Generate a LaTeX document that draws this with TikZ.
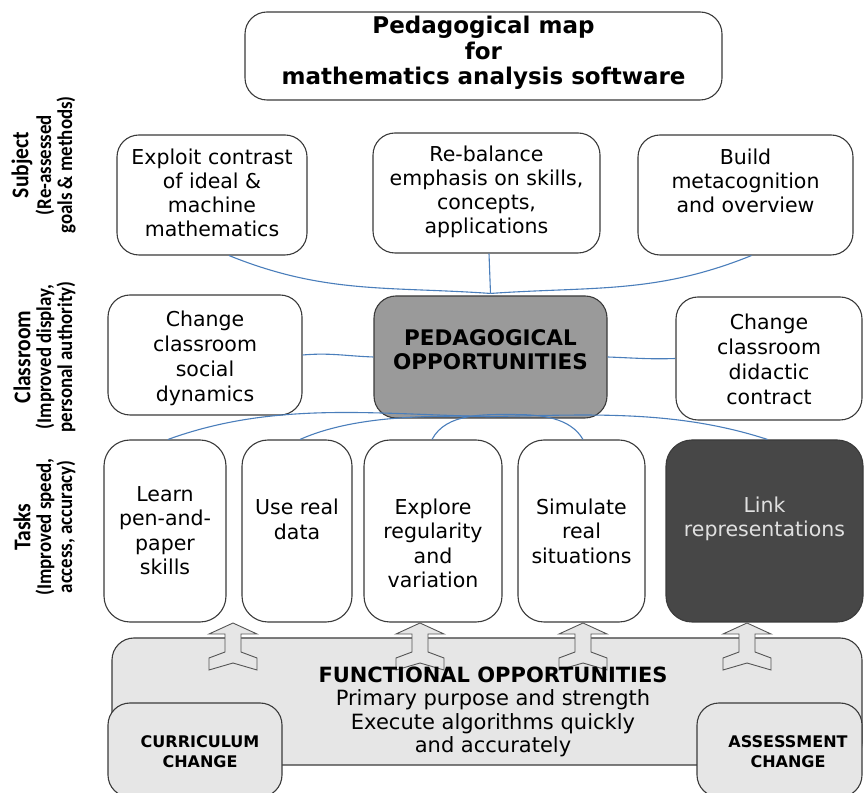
\documentclass[tikz,border=0pt]{standalone}
\usepackage{fontspec}
\setmainfont{DejaVu Sans}
\newfontfamily\labfont[FakeStretch=0.9]{Carlito}
\usetikzlibrary{calc}
\definecolor{edgegray}{HTML}{3A3A3A}
\definecolor{linkblue}{HTML}{4A7EBB}
\definecolor{pedgray}{HTML}{9A9A9A}
\definecolor{darkbox}{HTML}{474747}
\definecolor{lightfill}{HTML}{E6E6E6}
\definecolor{arrowedge}{HTML}{555555}
\tikzset{
  box/.style={draw=edgegray, line width=1.1pt, rounded corners=22pt, fill=white, inner sep=0pt},
  taskbox/.style={box, rounded corners=26pt},
  boxtext/.style={align=center, inner sep=0pt, text=black},
  link/.style={draw=linkblue, line width=1.1pt},
  rowlabel/.style={rotate=90, inner sep=0pt},
  rowmain/.style={rowlabel, font=\labfont\bfseries\fontsize{24}{24}\selectfont},
  rowsub/.style={rowlabel, font=\labfont\bfseries\fontsize{21}{21}\selectfont},
  uparrow/.pic={
    \draw[fill=lightfill, draw=arrowedge, line width=0.9pt]
      (0,0) -- (24,-11) -- (8,-11) -- (8,-29) -- (24,-35) -- (24,-47)
      -- (0,-40) -- (-24,-47) -- (-24,-35) -- (-8,-29) -- (-8,-11)
      -- (-24,-11) -- cycle;
  }
}
\newcommand{\fs}[2]{\fontsize{#1}{#2}\selectfont}
\begin{document}
\begin{tikzpicture}[x=1pt, y=1pt]
\useasboundingbox (0,0) rectangle (864,792);

% title
\node[box, minimum width=477pt, minimum height=88pt] (title) at (483.5,736) {};
\node[boxtext, font=\bfseries\fs{23}{25.5}] (titletext) at (483.5,739)
  {Pedagogical map\\for\\mathematics analysis software};

% row labels
\node[rowmain] (labS) at (22,627) {Subject};
\node[rowsub] (labS1) at (45,627) {(Re-assessed};
\node[rowsub] (labS2) at (66,627) {goals \& methods)};
\node[rowmain] (labC) at (22,435) {Classroom};
\node[rowsub] (labC1) at (45,435) {(Improved display,};
\node[rowsub] (labC2) at (66,435) {personal authority)};
\node[rowmain] (labT) at (22,265) {Tasks};
\node[rowsub] (labT1) at (45,265) {(Improved speed,};
\node[rowsub] (labT2) at (66,265) {access, accuracy)};

% subject row
\node[box, minimum width=190pt, minimum height=120pt] (s1) at (212,597) {};
\node[box, minimum width=227pt, minimum height=120pt] (s2) at (486.5,599) {};
\node[box, minimum width=215pt, minimum height=120pt] (s3) at (745.5,597) {};
\node[boxtext, font=\fs{20.5}{24}] (s1t) at (212,599) {Exploit contrast\\of ideal \&\\machine\\mathematics};
\node[boxtext, font=\fs{20.5}{24}] (s2t) at (486.5,600) {Re-balance\\emphasis on skills,\\concepts,\\applications};
\node[boxtext, font=\fs{20.5}{24}] (s3t) at (745.5,611) {Build\\metacognition\\and overview};

% classroom row
\node[box, minimum width=194pt, minimum height=120pt] (c1) at (205,437) {};
\node[box, fill=pedgray, minimum width=233pt, minimum height=122pt] (ped) at (490.5,435) {};
\node[box, minimum width=186pt, minimum height=123pt] (c3) at (769,433.5) {};
\node[boxtext, font=\fs{20.5}{25}] (c1t) at (205,434) {Change\\classroom\\social\\dynamics};
\node[boxtext, font=\bfseries\fs{21.5}{24}] (pedt) at (490.5,442) {PEDAGOGICAL\\OPPORTUNITIES};
\node[boxtext, font=\fs{20.5}{25}] (c3t) at (769,432.5) {Change\\classroom\\didactic\\contract};

% task row
\node[taskbox, minimum width=122pt, minimum height=182pt] (t1) at (165,261) {};
\node[taskbox, minimum width=110pt, minimum height=182pt] (t2) at (297,261) {};
\node[taskbox, minimum width=138pt, minimum height=182pt] (t3) at (433,261) {};
\node[taskbox, minimum width=127pt, minimum height=182pt] (t4) at (581.5,261) {};
\node[taskbox, fill=darkbox, minimum width=197pt, minimum height=182pt] (t5) at (764.5,261) {};
\node[boxtext, font=\fs{20.5}{24.5}] (t1t) at (165,261.5) {Learn\\pen-and-\\paper\\skills};
\node[boxtext, font=\fs{20.5}{24.5}] (t2t) at (297,272.5) {Use real\\data};
\node[boxtext, font=\fs{20.5}{24.5}] (t3t) at (433,248.5) {Explore\\regularity\\and\\variation};
\node[boxtext, font=\fs{20.5}{24.5}] (t4t) at (581.5,261) {Simulate\\real\\situations};
\node[boxtext, text=white!88!black, font=\fs{20.5}{24.5}] (t5t) at (764.5,273) {Link\\representations};

% functional base
\node[box, fill=lightfill, minimum width=750pt, minimum height=127pt] (func) at (487,90.5) {};
\pic at (233,169) {uparrow};
\pic at (420,169) {uparrow};
\pic at (583,169) {uparrow};
\pic at (747,169) {uparrow};
\node[box, fill=lightfill, minimum width=174pt, minimum height=94pt] (cur) at (195,42) {};
\node[box, fill=lightfill, minimum width=165pt, minimum height=94pt] (ass) at (779.5,42) {};
\node[boxtext, font=\fs{21}{23.3}] (funct) at (493,80)
  {{\bfseries FUNCTIONAL OPPORTUNITIES}\\Primary purpose and strength\\Execute algorithms quickly\\and accurately};
\node[boxtext, font=\bfseries\fs{16}{20}] (curt) at (200,40) {CURRICULUM\\CHANGE};
\node[boxtext, font=\bfseries\fs{16}{20}] (asst) at (788,40) {ASSESSMENT\\CHANGE};

% connectors
\draw[link] ([xshift=17pt]s1.south) to[out=-22, in=176] ([yshift=2pt]ped.north);
\draw[link] ([xshift=2.5pt]s2.south) -- ([yshift=2pt]ped.north);
\draw[link] ([xshift=6pt]s3.south) to[out=202, in=4] ([yshift=2pt]ped.north);
\draw[link] (c1.east) to[out=5, in=178] (ped.west);
\draw[link] (ped.east) to[out=-2, in=182] (c3.east -| c3.west);
\draw[link] ([xshift=3pt]t1.north) to[out=20, in=179, looseness=0.9] ([yshift=2pt]ped.south);
\draw[link] ([xshift=3pt]t2.north) to[out=24, in=179, looseness=0.8] ([yshift=2pt]ped.south);
\draw[link] ([xshift=-1pt]t3.north) to[out=62, in=180, looseness=0.9] ([xshift=25pt, yshift=4pt]ped.south);
\draw[link] ([xshift=1.5pt]t4.north) to[out=120, in=0, looseness=0.9] ([xshift=25pt, yshift=4pt]ped.south);
\draw[link] ([xshift=3pt]t5.north) to[out=162, in=1, looseness=0.9] ([yshift=2pt]ped.south);
\end{tikzpicture}
\end{document}
